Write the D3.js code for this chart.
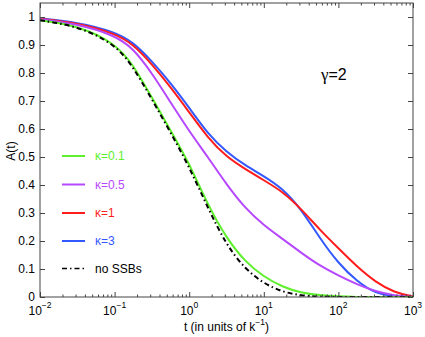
<!DOCTYPE html>
<html>
<head>
<meta charset="utf-8">
<script src="https://cdn.jsdelivr.net/npm/d3@7"></script>
<style>
  body { margin: 0; background: #fff; }
  text { font-family: "Liberation Sans", Arial, sans-serif; }
</style>
</head>
<body>
<div id="chart"></div>
<script>
// time in units of 1/k (log-spaced samples)
const tValues = [0.01, 0.0316, 0.1, 0.178, 0.316, 0.562, 1, 1.78, 3.16, 5.62, 10, 17.8, 31.6, 56.2, 100, 178, 316, 562, 1000];

const kappa01 = [0.988, 0.970, 0.908, 0.830, 0.712, 0.595, 0.478, 0.328, 0.210, 0.126, 0.072, 0.036, 0.015, 0.006, 0.002, 0, 0, 0, 0];
const kappa05 = [0.992, 0.975, 0.935, 0.888, 0.800, 0.695, 0.592, 0.500, 0.402, 0.317, 0.256, 0.208, 0.158, 0.112, 0.077, 0.045, 0.020, 0.005, 0];
const kappa1  = [0.994, 0.979, 0.942, 0.903, 0.832, 0.750, 0.660, 0.568, 0.500, 0.457, 0.417, 0.377, 0.315, 0.240, 0.174, 0.108, 0.053, 0.016, 0.002];
const kappa3  = [0.995, 0.981, 0.947, 0.910, 0.842, 0.765, 0.676, 0.582, 0.518, 0.470, 0.432, 0.388, 0.315, 0.210, 0.120, 0.055, 0.012, 0.002, 0];
const noSSB   = [0.988, 0.968, 0.905, 0.822, 0.706, 0.588, 0.465, 0.318, 0.185, 0.100, 0.048, 0.018, 0.005, 0.001, 0, 0, 0, 0, 0];

const seriesNames = ["κ=0.1", "κ=0.5", "κ=1", "κ=3", "no SSBs"];
const yTicks = [0, 0.1, 0.2, 0.3, 0.4, 0.5, 0.6, 0.7, 0.8, 0.9, 1];
const xMajor = [-2, -1, 0, 1, 2, 3];

const width = 425, height = 337;
const mLeft = 40, mRight = 413, mTop = 3, mBottom = 297;

const svg = d3.select("#chart")
  .append("svg")
  .attr("width", width)
  .attr("height", height);

const x = d3.scaleLog().domain([0.01, 1000]).range([mLeft, mRight]);
const y = d3.scaleLinear().domain([0, 1.05]).range([mBottom, mTop]);

const series = [
  { name: seriesNames[0], values: kappa01, color: "#5ef02c", dash: null },
  { name: seriesNames[1], values: kappa05, color: "#b648ff", dash: null },
  { name: seriesNames[2], values: kappa1, color: "#ff1c1c", dash: null },
  { name: seriesNames[3], values: kappa3, color: "#3358ff", dash: null },
  { name: seriesNames[4], values: noSSB, color: "#000", dash: "5,3,1.5,3" }
];

svg.append("clipPath").attr("id", "clip")
  .append("rect")
  .attr("x", mLeft).attr("y", mTop)
  .attr("width", mRight - mLeft).attr("height", mBottom - mTop);

const line = d3.line()
  .x((d, i) => x(tValues[i]))
  .y(d => y(d))
  .curve(d3.curveBasis);

// draw order: blue under red, black on top
const drawOrder = [3, 2, 1, 0, 4];
svg.append("g")
  .attr("clip-path", "url(#clip)")
  .selectAll("path")
  .data(drawOrder.map(i => series[i]))
  .enter()
  .append("path")
  .attr("d", d => line(d.values))
  .attr("fill", "none")
  .attr("stroke", d => d.color)
  .attr("stroke-width", 2)
  .attr("stroke-dasharray", d => d.dash);

// axes, MATLAB style: ticks inside on all four sides
const minor = x.ticks().filter(v => Math.abs(Math.log10(v) - Math.round(Math.log10(v))) > 1e-6);
const major = xMajor.map(e => Math.pow(10, e));

function styleAxis(g) {
  g.select(".domain").remove();
  g.selectAll("line").attr("stroke", "#444");
}

svg.append("g").attr("transform", `translate(0,${mBottom})`)
  .call(d3.axisBottom(x).tickValues(minor).tickSize(-2.5).tickFormat(""))
  .call(styleAxis);
svg.append("g").attr("transform", `translate(0,${mBottom})`)
  .call(d3.axisBottom(x).tickValues(major).tickSize(-5).tickFormat(""))
  .call(styleAxis);
svg.append("g").attr("transform", `translate(0,${mTop})`)
  .call(d3.axisTop(x).tickValues(minor).tickSize(-2.5).tickFormat(""))
  .call(styleAxis);
svg.append("g").attr("transform", `translate(0,${mTop})`)
  .call(d3.axisTop(x).tickValues(major).tickSize(-5).tickFormat(""))
  .call(styleAxis);
svg.append("g").attr("transform", `translate(${mLeft},0)`)
  .call(d3.axisLeft(y).tickValues(yTicks).tickSize(-5).tickFormat(""))
  .call(styleAxis);
svg.append("g").attr("transform", `translate(${mRight},0)`)
  .call(d3.axisRight(y).tickValues(yTicks).tickSize(-5).tickFormat(""))
  .call(styleAxis);

svg.append("rect")
  .attr("x", mLeft).attr("y", mTop)
  .attr("width", mRight - mLeft).attr("height", mBottom - mTop)
  .attr("fill", "none")
  .attr("stroke", "#444")
  .attr("stroke-width", 1);

// tick labels
svg.append("g")
  .selectAll("text")
  .data(yTicks)
  .enter()
  .append("text")
  .attr("x", mLeft - 5)
  .attr("y", d => y(d))
  .attr("dy", "0.35em")
  .attr("text-anchor", "end")
  .attr("font-size", 12)
  .text(d => d);

const xl = svg.append("g")
  .selectAll("text")
  .data(xMajor)
  .enter()
  .append("text")
  .attr("x", d => x(Math.pow(10, d)))
  .attr("y", 315)
  .attr("text-anchor", "middle")
  .attr("font-size", 12);
xl.append("tspan").text("10");
xl.append("tspan").attr("dy", -7).attr("font-size", 8.5).text(d => d < 0 ? "−" + (-d) : d);

// axis titles
const xt = svg.append("text")
  .attr("x", (mLeft + mRight) / 2)
  .attr("y", 331)
  .attr("text-anchor", "middle")
  .attr("font-size", 12);
xt.append("tspan").text("t (in units of k");
xt.append("tspan").attr("dy", -6).attr("font-size", 8.5).text("−1");
xt.append("tspan").attr("dy", 6).text(")");

svg.append("text")
  .attr("transform", `translate(15,${(mTop + mBottom) / 2 + 1}) rotate(-90)`)
  .attr("text-anchor", "middle")
  .attr("font-size", 12)
  .text("A(t)");

// annotation
const g2 = svg.append("text")
  .attr("x", 321)
  .attr("y", 80)
  .attr("font-size", 16);
g2.append("tspan").attr("font-family", "Liberation Serif, serif").attr("font-size", 17).text("γ");
g2.append("tspan").text("=2");

// legend
const legendY = [156, 184.5, 213, 241, 268.5];
const legend = svg.append("g")
  .selectAll("g")
  .data(series)
  .enter()
  .append("g")
  .attr("transform", (d, i) => `translate(0,${legendY[i]})`);

legend.append("line")
  .attr("x1", 62).attr("x2", 85)
  .attr("y1", 0).attr("y2", 0)
  .attr("stroke", d => d.color)
  .attr("stroke-width", d => d.dash ? 1.5 : 2)
  .attr("stroke-dasharray", d => d.dash);

legend.append("text")
  .attr("x", 95)
  .attr("y", 0)
  .attr("dy", "0.35em")
  .attr("font-size", 12)
  .attr("fill", d => d.color)
  .text(d => d.name);
</script>
</body>
</html>
